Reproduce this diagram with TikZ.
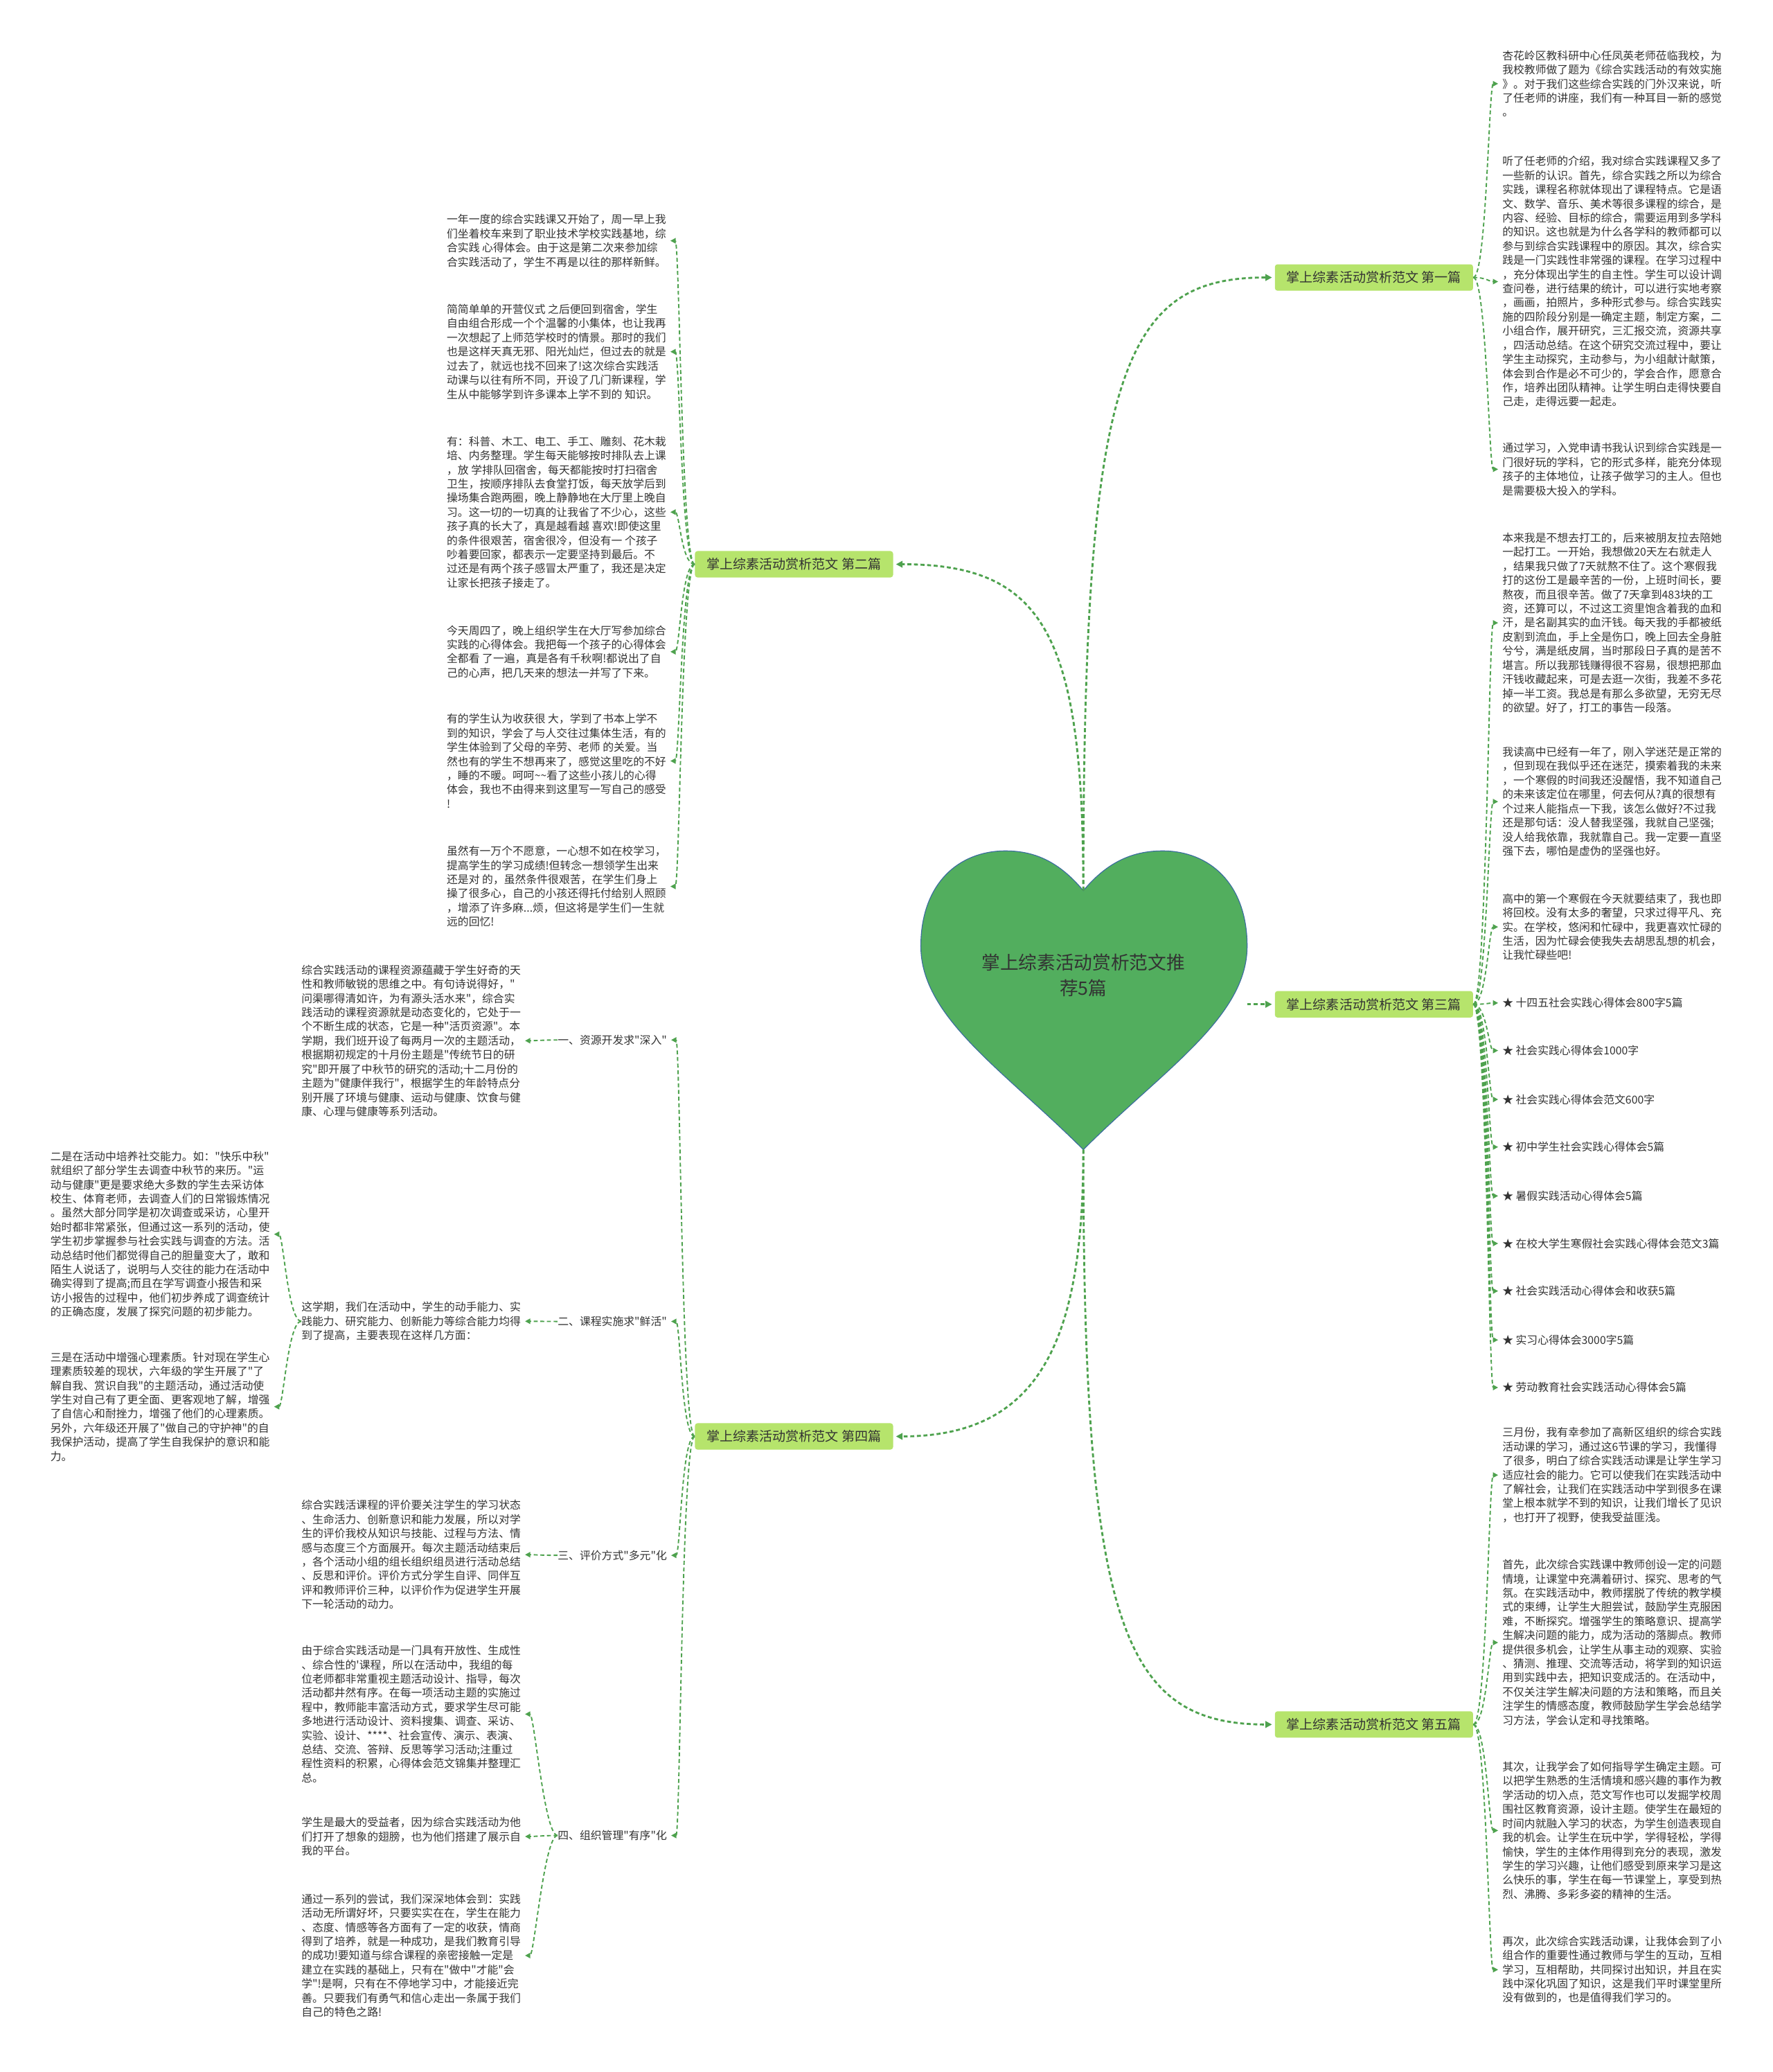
\documentclass[tikz,border=0pt]{standalone}
\usepackage{fontspec}
\setmainfont{Noto Sans CJK SC}[Ligatures=TeXOff]
\usepackage{xcolor}
\usetikzlibrary{arrows.meta,positioning}
\definecolor{hubGreen}{RGB}{82,174,94}
\definecolor{hubEdge}{RGB}{58,108,158}
\definecolor{brFill}{RGB}{182,228,108}
\definecolor{lnGreen}{RGB}{78,162,78}
\definecolor{txtGray}{RGB}{51,51,51}

\begin{document}
\begin{tikzpicture}[
  x=1pt, y=-1pt,
  leaf/.style={font=\fontsize{8.3}{10.7}\selectfont, text=txtGray, align=left, inner sep=0pt, anchor=north west},
  branch/.style={fill=brFill, rounded corners=2pt, minimum width=150pt, minimum height=20pt, inner sep=2pt, font=\fontsize{10}{12}\selectfont, text=txtGray},
  hubtxt/.style={font=\fontsize{14}{19}\selectfont, text=txtGray, align=center},
  heart/.style={fill=hubGreen, draw=hubEdge, line width=0.6pt},
  mainln/.style={draw=lnGreen, line width=1.5pt, dash pattern=on 3pt off 2pt, -{Triangle[length=5pt,width=5pt]}, shorten >=2pt},
  leafln/.style={draw=lnGreen, line width=1pt, dash pattern=on 3pt off 2pt, -{Triangle[length=4pt,width=4pt]}, shorten >=3pt}
]
\fill[white] (0,0) rectangle (1342,1568);
\useasboundingbox (0,0) rectangle (1342,1568);

%============ HUB ============
\draw[heart] (820,674)
  .. controls (800,650) and (780,643) .. (757,644)
  .. controls (722,646) and (697,672) .. (697,716)
  .. controls (697,770) and (760,810) .. (820,870)
  .. controls (880,810) and (944,770) .. (944,716)
  .. controls (944,672) and (919,646) .. (884,644)
  .. controls (861,643) and (840,650) .. (820,674) -- cycle;
\node[hubtxt] (hub) at (820,738) {掌上综素活动赏析范文推\\荐5篇};
\coordinate (htop) at (820,674);
\coordinate (hbot) at (820,870);
\coordinate (hright) at (944,760);

% branches
\node[branch] (b1) at (1040,210) {掌上综素活动赏析范文 第一篇};
\node[branch] (b2) at (601,427) {掌上综素活动赏析范文 第二篇};
\node[branch] (b3) at (1040,760) {掌上综素活动赏析范文 第三篇};
\node[branch] (b4) at (601,1087) {掌上综素活动赏析范文 第四篇};
\node[branch] (b5) at (1040,1305) {掌上综素活动赏析范文 第五篇};

\draw[mainln] (htop) .. controls (820,280) and (850,210) .. (b1.west);
\draw[mainln] (htop) .. controls (820,480) and (790,427) .. (b2.east);
\draw[mainln] (hright) -- (b3.west);
\draw[mainln] (hbot) .. controls (820,1010) and (790,1087) .. (b4.east);
\draw[mainln] (hbot) .. controls (820,1230) and (850,1305) .. (b5.west);

%============ FIRST ============
\node[leaf] (p1a) at (1137,38) {杏花岭区教科研中心任凤英老师莅临我校，为\\我校教师做了题为《综合实践活动的有效实施\\》。对于我们这些综合实践的门外汉来说，听\\了任老师的讲座，我们有一种耳目一新的感觉\\。};
\node[leaf] (p1b) at (1137,118) {听了任老师的介绍，我对综合实践课程又多了\\一些新的认识。首先，综合实践之所以为综合\\实践，课程名称就体现出了课程特点。它是语\\文、数学、音乐、美术等很多课程的综合，是\\内容、经验、目标的综合，需要运用到多学科\\的知识。这也就是为什么各学科的教师都可以\\参与到综合实践课程中的原因。其次，综合实\\践是一门实践性非常强的课程。在学习过程中\\，充分体现出学生的自主性。学生可以设计调\\查问卷，进行结果的统计，可以进行实地考察\\，画画，拍照片，多种形式参与。综合实践实\\施的四阶段分别是一确定主题，制定方案，二\\小组合作，展开研究，三汇报交流，资源共享\\，四活动总结。在这个研究交流过程中，要让\\学生主动探究，主动参与，为小组献计献策，\\体会到合作是必不可少的，学会合作，愿意合\\作，培养出团队精神。让学生明白走得快要自\\己走，走得远要一起走。};
\node[leaf] (p1c) at (1137,335) {通过学习，入党申请书我认识到综合实践是一\\门很好玩的学科，它的形式多样，能充分体现\\孩子的主体地位，让孩子做学习的主人。但也\\是需要极大投入的学科。};
\foreach \n in {p1a,p1b,p1c}
  \draw[leafln] (b1.east) .. controls +(10,0) and +(-10,0) .. (\n.west);

%============ SECOND ============
\node[leaf] (p2a) at (338,162) {一年一度的综合实践课又开始了，周一早上我\\们坐着校车来到了职业技术学校实践基地，综\\合实践 心得体会。由于这是第二次来参加综\\合实践活动了，学生不再是以往的那样新鲜。};
\node[leaf] (p2b) at (338,230) {简简单单的开营仪式 之后便回到宿舍，学生\\自由组合形成一个个温馨的小集体，也让我再\\一次想起了上师范学校时的情景。那时的我们\\也是这样天真无邪、阳光灿烂，但过去的就是\\过去了，就远也找不回来了!这次综合实践活\\动课与以往有所不同，开设了几门新课程，学\\生从中能够学到许多课本上学不到的 知识。};
\node[leaf] (p2c) at (338,330) {有：科普、木工、电工、手工、雕刻、花木栽\\培、内务整理。学生每天能够按时排队去上课\\，放 学排队回宿舍，每天都能按时打扫宿舍\\卫生，按顺序排队去食堂打饭，每天放学后到\\操场集合跑两圈，晚上静静地在大厅里上晚自\\习。这一切的一切真的让我省了不少心，这些\\孩子真的长大了，真是越看越 喜欢!即使这里\\的条件很艰苦，宿舍很冷，但没有一 个孩子\\吵着要回家，都表示一定要坚持到最后。不\\过还是有两个孩子感冒太严重了，我还是决定\\让家长把孩子接走了。};
\node[leaf] (p2d) at (338,473) {今天周四了，晚上组织学生在大厅写参加综合\\实践的心得体会。我把每一个孩子的心得体会\\全都看 了一遍，真是各有千秋啊!都说出了自\\己的心声，把几天来的想法一并写了下来。};
\node[leaf] (p2e) at (338,540) {有的学生认为收获很 大，学到了书本上学不\\到的知识，学会了与人交往过集体生活，有的\\学生体验到了父母的辛劳、老师 的关爱。当\\然也有的学生不想再来了，感觉这里吃的不好\\，睡的不暖。呵呵\textasciitilde\textasciitilde 看了这些小孩儿的心得\\体会，我也不由得来到这里写一写自己的感受\\!};
\node[leaf] (p2f) at (338,640) {虽然有一万个不愿意，一心想不如在校学习，\\提高学生的学习成绩!但转念一想领学生出来\\还是对 的，虽然条件很艰苦，在学生们身上\\操了很多心，自己的小孩还得托付给别人照顾\\，增添了许多麻...烦，但这将是学生们一生就\\远的回忆!};
\foreach \n in {p2a,p2b,p2c,p2d,p2e,p2f}
  \draw[leafln] (b2.west) .. controls +(-10,0) and +(10,0) .. (\n.east);

%============ THIRD ============
\node[leaf] (p3a) at (1137,403) {本来我是不想去打工的，后来被朋友拉去陪她\\一起打工。一开始，我想做20天左右就走人\\，结果我只做了7天就熬不住了。这个寒假我\\打的这份工是最辛苦的一份，上班时间长，要\\熬夜，而且很辛苦。做了7天拿到483块的工\\资，还算可以，不过这工资里饱含着我的血和\\汗，是名副其实的血汗钱。每天我的手都被纸\\皮割到流血，手上全是伤口，晚上回去全身脏\\兮兮，满是纸皮屑，当时那段日子真的是苦不\\堪言。所以我那钱赚得很不容易，很想把那血\\汗钱收藏起来，可是去逛一次街，我差不多花\\掉一半工资。我总是有那么多欲望，无穷无尽\\的欲望。好了，打工的事告一段落。};
\node[leaf] (p3b) at (1137,565) {我读高中已经有一年了，刚入学迷茫是正常的\\，但到现在我似乎还在迷茫，摸索着我的未来\\，一个寒假的时间我还没醒悟，我不知道自己\\的未来该定位在哪里，何去何从?真的很想有\\个过来人能指点一下我，该怎么做好?不过我\\还是那句话：没人替我坚强，我就自己坚强;\\没人给我依靠，我就靠自己。我一定要一直坚\\强下去，哪怕是虚伪的坚强也好。};
\node[leaf] (p3c) at (1137,676) {高中的第一个寒假在今天就要结束了，我也即\\将回校。没有太多的奢望，只求过得平凡、充\\实。在学校，悠闲和忙碌中，我更喜欢忙碌的\\生活，因为忙碌会使我失去胡思乱想的机会，\\让我忙碌些吧!};
\foreach \y/\t [count=\i] in {759/十四五社会实践心得体会800字5篇, 795/社会实践心得体会1000字, 832/社会实践心得体会范文600字, 868/初中学生社会实践心得体会5篇, 905/暑假实践活动心得体会5篇, 941/在校大学生寒假社会实践心得体会范文3篇, 977/社会实践活动心得体会和收获5篇, 1014/实习心得体会3000字5篇, 1050/劳动教育社会实践活动心得体会5篇}
  \node[leaf, anchor=west] (st\i) at (1137,\y) {★ \t};
\foreach \n in {p3a,p3b,p3c,st1,st2,st3,st4,st5,st6,st7,st8,st9}
  \draw[leafln] (b3.east) .. controls +(10,0) and +(-10,0) .. (\n.west);

%============ FOURTH ============
\node[leaf, anchor=west] (k1) at (422,787) {一、资源开发求"深入"};
\node[leaf, anchor=west] (k2) at (422,1000) {二、课程实施求"鲜活"};
\node[leaf, anchor=west] (k3) at (422,1177) {三、评价方式"多元"化};
\node[leaf, anchor=west] (k4) at (422,1389) {四、组织管理"有序"化};
\foreach \n in {k1,k2,k3,k4}
  \draw[leafln] (b4.west) .. controls +(-10,0) and +(10,0) .. (\n.east);

% one
\node[leaf] (k1t) at (228,730) {综合实践活动的课程资源蕴藏于学生好奇的天\\性和教师敏锐的思维之中。有句诗说得好，"\\问渠哪得清如许，为有源头活水来"，综合实\\践活动的课程资源就是动态变化的，它处于一\\个不断生成的状态，它是一种"活页资源"。本\\学期，我们班开设了每两月一次的主题活动，\\根据期初规定的十月份主题是"传统节日的研\\究"即开展了中秋节的研究的活动;十二月份的\\主题为"健康伴我行"，根据学生的年龄特点分\\别开展了环境与健康、运动与健康、饮食与健\\康、心理与健康等系列活动。};
\draw[leafln] (k1.west) .. controls +(-10,0) and +(10,0) .. (k1t.east);

% two
\node[leaf] (k2t) at (228,985) {这学期，我们在活动中，学生的动手能力、实\\践能力、研究能力、创新能力等综合能力均得\\到了提高，主要表现在这样几方面：};
\node[leaf] (k2a) at (38,871) {二是在活动中培养社交能力。如："快乐中秋"\\就组织了部分学生去调查中秋节的来历。"运\\动与健康"更是要求绝大多数的学生去采访体\\校生、体育老师，去调查人们的日常锻炼情况\\。虽然大部分同学是初次调查或采访，心里开\\始时都非常紧张，但通过这一系列的活动，使\\学生初步掌握参与社会实践与调查的方法。活\\动总结时他们都觉得自己的胆量变大了，敢和\\陌生人说话了，说明与人交往的能力在活动中\\确实得到了提高;而且在学写调查小报告和采\\访小报告的过程中，他们初步养成了调查统计\\的正确态度，发展了探究问题的初步能力。};
\node[leaf] (k2b) at (38,1023) {三是在活动中增强心理素质。针对现在学生心\\理素质较差的现状，六年级的学生开展了"了\\解自我、赏识自我"的主题活动，通过活动使\\学生对自己有了更全面、更客观地了解，增强\\了自信心和耐挫力，增强了他们的心理素质。\\另外，六年级还开展了"做自己的守护神"的自\\我保护活动，提高了学生自我保护的意识和能\\力。};
\draw[leafln] (k2.west) .. controls +(-10,0) and +(10,0) .. (k2t.east);
\foreach \n in {k2a,k2b}
  \draw[leafln] (k2t.west) .. controls +(-10,0) and +(10,0) .. (\n.east);

% three
\node[leaf] (k3t) at (228,1135) {综合实践活课程的评价要关注学生的学习状态\\、生命活力、创新意识和能力发展，所以对学\\生的评价我校从知识与技能、过程与方法、情\\感与态度三个方面展开。每次主题活动结束后\\，各个活动小组的组长组织组员进行活动总结\\、反思和评价。评价方式分学生自评、同伴互\\评和教师评价三种，以评价作为促进学生开展\\下一轮活动的动力。};
\draw[leafln] (k3.west) .. controls +(-10,0) and +(10,0) .. (k3t.east);

% four
\node[leaf] (k4a) at (228,1245) {由于综合实践活动是一门具有开放性、生成性\\、综合性的'课程，所以在活动中，我组的每\\位老师都非常重视主题活动设计、指导，每次\\活动都井然有序。在每一项活动主题的实施过\\程中，教师能丰富活动方式，要求学生尽可能\\多地进行活动设计、资料搜集、调查、采访、\\实验、设计、****、社会宣传、演示、表演、\\总结、交流、答辩、反思等学习活动;注重过\\程性资料的积累，心得体会范文锦集并整理汇\\总。};
\node[leaf] (k4b) at (228,1375) {学生是最大的受益者，因为综合实践活动为他\\们打开了想象的翅膀，也为他们搭建了展示自\\我的平台。};
\node[leaf] (k4c) at (228,1433) {通过一系列的尝试，我们深深地体会到：实践\\活动无所谓好坏，只要实实在在，学生在能力\\、态度、情感等各方面有了一定的收获，情商\\得到了培养，就是一种成功，是我们教育引导\\的成功!要知道与综合课程的亲密接触一定是\\建立在实践的基础上，只有在"做中"才能"会\\学"!是啊，只有在不停地学习中，才能接近完\\善。只要我们有勇气和信心走出一条属于我们\\自己的特色之路!};
\foreach \n in {k4a,k4b,k4c}
  \draw[leafln] (k4.west) .. controls +(-10,0) and +(10,0) .. (\n.east);

%============ FIFTH ============
\node[leaf] (p5a) at (1137,1080) {三月份，我有幸参加了高新区组织的综合实践\\活动课的学习，通过这6节课的学习，我懂得\\了很多，明白了综合实践活动课是让学生学习\\适应社会的能力。它可以使我们在实践活动中\\了解社会，让我们在实践活动中学到很多在课\\堂上根本就学不到的知识，让我们增长了见识\\，也打开了视野，使我受益匪浅。};
\node[leaf] (p5b) at (1137,1180) {首先，此次综合实践课中教师创设一定的问题\\情境，让课堂中充满着研讨、探究、思考的气\\氛。在实践活动中，教师摆脱了传统的教学模\\式的束缚，让学生大胆尝试，鼓励学生克服困\\难，不断探究。增强学生的策略意识、提高学\\生解决问题的能力，成为活动的落脚点。教师\\提供很多机会，让学生从事主动的观察、实验\\、猜测、推理、交流等活动，将学到的知识运\\用到实践中去，把知识变成活的。在活动中，\\不仅关注学生解决问题的方法和策略，而且关\\注学生的情感态度，教师鼓励学生学会总结学\\习方法，学会认定和寻找策略。};
\node[leaf] (p5c) at (1137,1333) {其次，让我学会了如何指导学生确定主题。可\\以把学生熟悉的生活情境和感兴趣的事作为教\\学活动的切入点，范文写作也可以发掘学校周\\围社区教育资源，设计主题。使学生在最短的\\时间内就融入学习的状态，为学生创造表现自\\我的机会。让学生在玩中学，学得轻松，学得\\愉快，学生的主体作用得到充分的表现，激发\\学生的学习兴趣，让他们感受到原来学习是这\\么快乐的事，学生在每一节课堂上，享受到热\\烈、沸腾、多彩多姿的精神的生活。};
\node[leaf] (p5d) at (1137,1465) {再次，此次综合实践活动课，让我体会到了小\\组合作的重要性通过教师与学生的互动，互相\\学习，互相帮助，共同探讨出知识，并且在实\\践中深化巩固了知识，这是我们平时课堂里所\\没有做到的，也是值得我们学习的。};
\foreach \n in {p5a,p5b,p5c,p5d}
  \draw[leafln] (b5.east) .. controls +(10,0) and +(-10,0) .. (\n.west);

\end{tikzpicture}
\end{document}
